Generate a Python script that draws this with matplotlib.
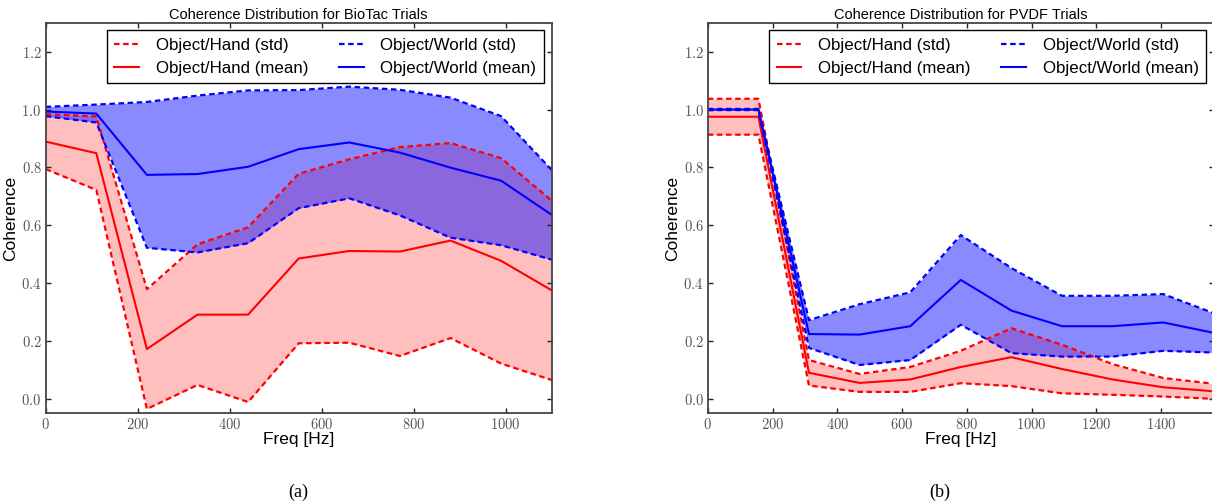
import matplotlib
matplotlib.use('Agg')
import matplotlib.pyplot as plt
import numpy as np
from matplotlib.ticker import FuncFormatter

plt.rcParams['font.family'] = ['Liberation Sans', 'DejaVu Sans']
plt.rcParams['mathtext.fontset'] = 'cm'

# --- BioTac trials ---
freq_a = [0, 110, 220, 330, 440, 550, 660, 770, 880, 990, 1100]
hand_mean_a = [0.889, 0.849, 0.172, 0.291, 0.291, 0.485, 0.511, 0.509, 0.547, 0.477, 0.375]
hand_std_a = [0.095, 0.127, 0.207, 0.243, 0.302, 0.293, 0.317, 0.361, 0.337, 0.355, 0.310]
world_mean_a = [0.993, 0.986, 0.774, 0.777, 0.802, 0.863, 0.886, 0.851, 0.799, 0.754, 0.636]
world_std_a = [0.016, 0.031, 0.252, 0.271, 0.264, 0.204, 0.193, 0.217, 0.242, 0.223, 0.155]

# --- PVDF trials ---
freq_b = [0, 156.25, 312.5, 468.75, 625, 781.25, 937.5, 1093.75, 1250, 1406.25, 1562.5]
hand_mean_b = [0.975, 0.975, 0.090, 0.055, 0.067, 0.110, 0.144, 0.103, 0.067, 0.040, 0.026]
hand_std_b = [0.062, 0.062, 0.044, 0.031, 0.043, 0.056, 0.100, 0.084, 0.053, 0.032, 0.026]
world_mean_b = [1.000, 1.000, 0.224, 0.222, 0.251, 0.411, 0.305, 0.251, 0.251, 0.264, 0.228]
world_std_b = [0.002, 0.002, 0.048, 0.105, 0.117, 0.155, 0.147, 0.105, 0.105, 0.098, 0.068]

yticks = [0.0, 0.2, 0.4, 0.6, 0.8, 1.0, 1.2]

fig = plt.figure(figsize=(12.12, 5.04), dpi=100)

W = 506 / 1212.
B = (504 - 413.3) / 504.
H = (413.3 - 22.7) / 504.
axa = fig.add_axes([45.7 / 1212., B, W, H])
axb = fig.add_axes([707.8 / 1212., B, W, H])

dash = (0, (2.5, 1.6))


def draw(ax, f, hm, hs, wm, ws, title, xmax, xticks):
    f = np.array(f)
    hm = np.array(hm); hs = np.array(hs)
    wm = np.array(wm); ws = np.array(ws)
    ax.fill_between(f, hm - hs, hm + hs, color='red', alpha=0.25, lw=0)
    ax.fill_between(f, wm - ws, wm + ws, color='blue', alpha=0.46, lw=0)
    l1, = ax.plot(f, hm + hs, color='red', ls=dash, lw=1.6)
    ax.plot(f, hm - hs, color='red', ls=dash, lw=1.6)
    l2, = ax.plot(f, hm, color='red', lw=1.5)
    l3, = ax.plot(f, wm + ws, color='blue', ls=dash, lw=1.6)
    ax.plot(f, wm - ws, color='blue', ls=dash, lw=1.6)
    l4, = ax.plot(f, wm, color='blue', lw=1.5)

    ax.set_xlim(0, xmax)
    ax.set_ylim(-0.05, 1.3)
    ax.set_xticks(xticks)
    ax.set_yticks(yticks)
    ax.xaxis.set_major_formatter(FuncFormatter(lambda v, p: r'$%d$' % v))
    ax.yaxis.set_major_formatter(FuncFormatter(lambda v, p: r'$%.1f$' % v))
    ax.tick_params(direction='in', top=True, right=True, length=3.5, width=1,
                   labelsize=10.5, labelcolor='#555555', color='#222222', pad=3)
    for s in ax.spines.values():
        s.set_color('#444444')
        s.set_linewidth(1.3)
    ax.set_title(title, fontsize=10.5, pad=3)
    ax.set_xlabel('Freq [Hz]', fontsize=12.5, labelpad=0)
    ax.set_ylabel('Coherence', fontsize=12.5, labelpad=2)

    leg = ax.legend([l1, l2, l3, l4],
                    ['Object/Hand (std)', 'Object/Hand (mean)',
                     'Object/World (std)', 'Object/World (mean)'],
                    ncol=2, loc='upper right', fontsize=12.2, fancybox=False,
                    framealpha=1, edgecolor='black', handlelength=1.45,
                    handletextpad=1.0, columnspacing=1.8, borderaxespad=0.45,
                    labelspacing=0.45, borderpad=0.45)
    leg.get_frame().set_linewidth(1.0)


draw(axa, freq_a, hand_mean_a, hand_std_a, world_mean_a, world_std_a,
     'Coherence Distribution for BioTac Trials', 1100, [0, 200, 400, 600, 800, 1000])
draw(axb, freq_b, hand_mean_b, hand_std_b, world_mean_b, world_std_b,
     'Coherence Distribution for PVDF Trials', 1562.5, [0, 200, 400, 600, 800, 1000, 1200, 1400])

fig.text(298.7 / 1212., 1 - 492 / 504., '(a)', ha='center', va='center',
         fontsize=13, family='Liberation Serif')
fig.text(940 / 1212., 1 - 492 / 504., '(b)', ha='center', va='center',
         fontsize=13, family='Liberation Serif')

fig.savefig('out.png', dpi=100)
